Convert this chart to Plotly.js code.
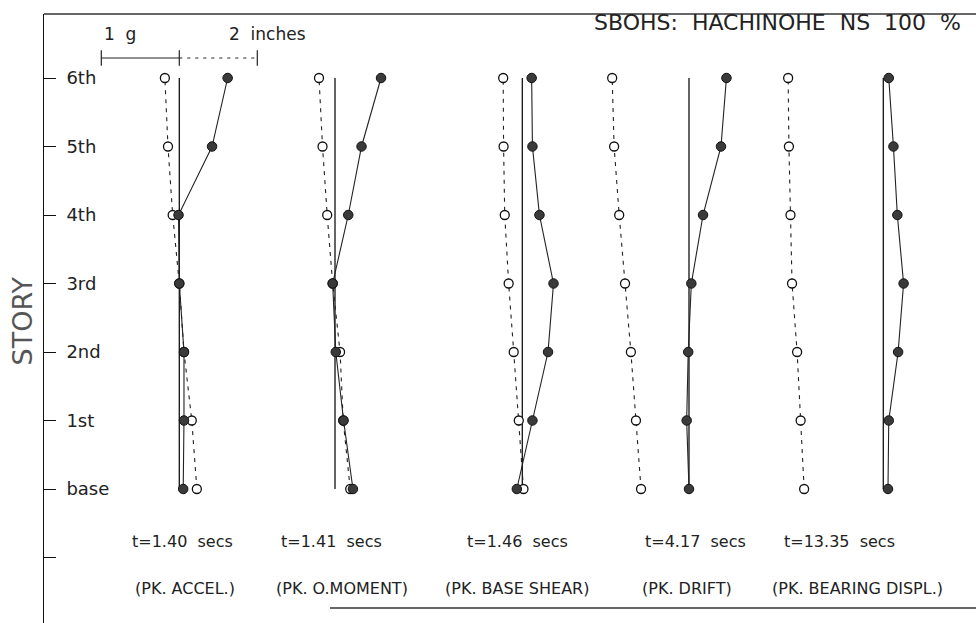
<!DOCTYPE html>
<html><head><meta charset="utf-8">
<script src="https://cdn.plot.ly/plotly-3.0.1.min.js"></script>
<style>html,body{margin:0;padding:0;background:#fff}#chart{width:976px;height:623px}</style>
</head><body><div id="chart"></div>
<script>
// ---- data (story index 0 = base ... 6 = 6th) ----
const storyLevels = [0, 1, 2, 3, 4, 5, 6];
const storyTickVals = [-1, 0, 1, 2, 3, 4, 5, 6];
const storyTickText = ['', 'base', '1st', '2nd', '3rd', '4th', '5th', '6th'];
const storyTitle = 'STORY';

const panelTimes = ['t=1.40  secs', 't=1.41  secs', 't=1.46  secs', 't=4.17  secs', 't=13.35  secs'];
const panelNames = ['(PK. ACCEL.)', '(PK. O.MOMENT)', '(PK. BASE SHEAR)', '(PK. DRIFT)', '(PK. BEARING DISPL.)'];

// filled circles: acceleration profile (g)
const accelPkAccel   = [0.05, 0.06, 0.06, 0.00, -0.01, 0.42, 0.62];
const accelPkMoment  = [0.23, 0.11, 0.01, -0.03, 0.17, 0.34, 0.59];
const accelPkShear   = [-0.07, 0.13, 0.33, 0.40, 0.22, 0.13, 0.12];
const accelPkDrift   = [0.00, -0.03, -0.01, 0.03, 0.18, 0.41, 0.48];
const accelPkBearing = [0.06, 0.07, 0.19, 0.26, 0.18, 0.13, 0.07];

// open circles: displacement profile (inches)
const dispPkAccel   = [0.45, 0.32, 0.12, 0.00, -0.17, -0.29, -0.37];
const dispPkMoment  = [0.39, 0.21, 0.13, -0.06, -0.20, -0.32, -0.41];
const dispPkShear   = [0.03, -0.09, -0.22, -0.35, -0.45, -0.48, -0.49];
const dispPkDrift   = [-1.23, -1.36, -1.49, -1.64, -1.79, -1.92, -1.97];
const dispPkBearing = [-2.03, -2.12, -2.21, -2.34, -2.38, -2.42, -2.44];

// scale bar values
const scaleAccelG = 1;
const scaleDispIn = 2;
const scaleLabels = ['1  g', '2  inches'];

// ---- layout constants ----
const FONT = 'DejaVu Sans, Liberation Sans, sans-serif';
const PX_PER_UNIT = 78;            // 1 g
const IN_TO_UNIT = 0.5;            // 2 inches = 1 g width
const PX_PER_STORY = 68.5;
const L = 44, T = 14, W = 976 - L, H = 623 - T;
const yTop = 6 + (78 - T) / PX_PER_STORY;
const yBot = yTop - H / PX_PER_STORY;
const px2x = p => (p - L) / PX_PER_UNIT;
const py2y = p => 6 - (p - 78) / PX_PER_STORY;
const panelOrigins = [179.3, 335, 522.3, 689, 883.3].map(px2x);
const timeCenters = [182, 331, 517, 695, 839];
const nameCenters = [185, 342, 517, 687, 857];

const accelSets = [accelPkAccel, accelPkMoment, accelPkShear, accelPkDrift, accelPkBearing];
const dispSets = [dispPkAccel, dispPkMoment, dispPkShear, dispPkDrift, dispPkBearing];

const traces = [];
panelOrigins.forEach((o, i) => {
  traces.push({x: [o, o], y: [storyLevels[0], storyLevels[storyLevels.length - 1]], mode: 'lines',
    line: {color: '#111', width: 1.3}, hoverinfo: 'skip'});
});
panelOrigins.forEach((o, i) => {
  traces.push({x: dispSets[i].map(v => o + v * IN_TO_UNIT), y: storyLevels, mode: 'lines+markers',
    line: {color: '#222', width: 1.1, dash: '4px,5px'},
    marker: {symbol: 'circle', size: 9, color: '#fff', line: {color: '#111', width: 1.3}},
    name: 'displacement ' + panelNames[i]});
});
panelOrigins.forEach((o, i) => {
  traces.push({x: accelSets[i].map(v => o + v), y: storyLevels, mode: 'lines+markers',
    line: {color: '#222', width: 1.1},
    marker: {symbol: 'circle', size: 9.5, color: '#3a3a3a', line: {color: '#111', width: 1}},
    name: 'acceleration ' + panelNames[i]});
});

// scale bar
const barY = py2y(58);
const o1 = panelOrigins[0];
traces.push({x: [o1 - scaleAccelG, o1], y: [barY, barY], mode: 'lines', line: {color: '#222', width: 1.2}, hoverinfo: 'skip'});
traces.push({x: [o1, o1 + scaleDispIn * IN_TO_UNIT], y: [barY, barY], mode: 'lines', line: {color: '#222', width: 1.1, dash: '3px,5px'}, hoverinfo: 'skip'});
traces.push({x: [o1 - scaleAccelG, o1, o1 + scaleDispIn * IN_TO_UNIT], y: [barY, barY, barY], mode: 'markers',
  marker: {symbol: 'line-ns', size: 11, line: {color: '#222', width: 1.2}}, hoverinfo: 'skip'});

const annotations = [];
annotations.push({x: px2x(120), y: py2y(34), xref: 'x', yref: 'y', text: scaleLabels[0], showarrow: false, font: {size: 17}});
annotations.push({x: px2x(267), y: py2y(34), xref: 'x', yref: 'y', text: scaleLabels[1], showarrow: false, font: {size: 17}});
panelTimes.forEach((t, i) => {
  annotations.push({x: px2x(timeCenters[i]), y: py2y(541), xref: 'x', yref: 'y', text: t, showarrow: false, font: {size: 16}});
});
panelNames.forEach((t, i) => {
  annotations.push({x: px2x(nameCenters[i]), y: py2y(588), xref: 'x', yref: 'y', text: t, showarrow: false, font: {size: 16}});
});
// axis title (rotated), placed left of the axis line
annotations.push({x: (22 - L) / W, y: 0.5 - 3 / H, xref: 'paper', yref: 'paper', text: storyTitle, textangle: -90,
  showarrow: false, xanchor: 'center', yanchor: 'middle', font: {family: FONT, size: 27, color: '#555'}});

const layout = {
  width: 976, height: 623,
  margin: {l: L, r: 0, t: T, b: 0, pad: 0},
  paper_bgcolor: '#fff', plot_bgcolor: '#fff',
  showlegend: false,
  font: {family: FONT, color: '#222', size: 16},
  title: {text: 'SBOHS:\u00a0 HACHINOHE\u00a0 NS\u00a0 100\u00a0 %', x: 961 / 976, xanchor: 'right', xref: 'container',
    y: 1 - 22 / 623, yref: 'container', yanchor: 'middle', font: {family: FONT, size: 22, color: '#222'}},
  xaxis: {range: [0, W / PX_PER_UNIT], visible: false, fixedrange: true},
  yaxis: {range: [yBot, yTop], tickvals: storyTickVals, ticktext: storyTickText,
    ticks: 'inside', ticklen: 12, tickwidth: 1, tickcolor: '#111',
    ticklabelposition: 'inside', ticklabelstandoff: 11, showline: true, linecolor: '#111', linewidth: 1.5,
    showgrid: false, zeroline: false, tickfont: {family: FONT, size: 18, color: '#222'}, fixedrange: true},
  shapes: [
    {type: 'line', xref: 'paper', yref: 'paper', x0: 0, x1: 1, y0: 1, y1: 1, line: {color: '#333', width: 1.3}},
    {type: 'line', xref: 'paper', yref: 'paper', x0: (330 - L) / W, x1: 1, y0: (623 - 608) / H, y1: (623 - 608) / H, line: {color: '#333', width: 1.3}}
  ],
  annotations: annotations
};

Plotly.newPlot('chart', traces, layout, {displayModeBar: false, staticPlot: true});
</script>
</body></html>
